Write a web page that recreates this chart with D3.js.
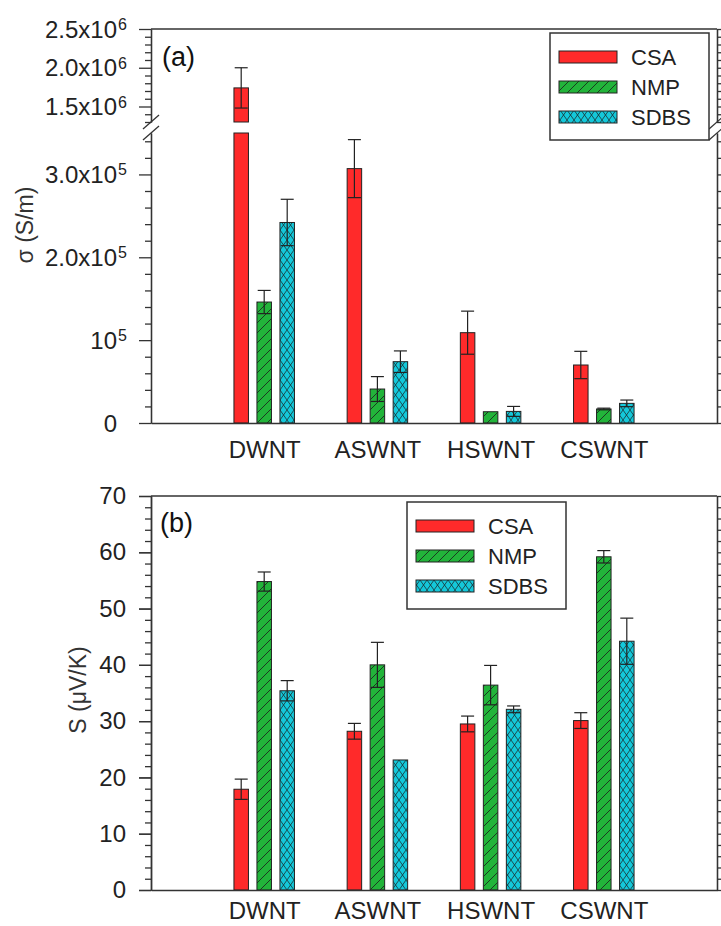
<!DOCTYPE html>
<html>
<head>
<meta charset="utf-8">
<script src="https://cdn.jsdelivr.net/npm/d3@7"></script>
<style>
  body { margin: 0; background: #fff; }
  svg { display: block; font-family: "Liberation Sans", Arial, sans-serif; }
  .axis path, .axis line { stroke: #333; stroke-width: 1.3; }
  .axis text { fill: #222; }
</style>
</head>
<body>
<script>
//categories and solvents
var categories = ["DWNT", "ASWNT", "HSWNT", "CSWNT"];
var series = ["CSA", "NMP", "SDBS"];

//conductivity (S/m) with error
var sigmaCSA = [1.74e6, 3.07e5, 1.09e5, 7.0e4];
var sigmaCSAErr = [2.6e5, 3.5e4, 2.6e4, 1.65e4];
var sigmaNMP = [1.46e5, 4.1e4, 1.36e4, 1.69e4];
var sigmaNMPErr = [1.4e4, 1.5e4, 0, 1e3];
var sigmaSDBS = [2.42e5, 7.4e4, 1.4e4, 2.37e4];
var sigmaSDBSErr = [2.8e4, 1.3e4, 6e3, 4e3];

//seebeck coefficient (uV/K) with error
var seebeckCSA = [17.9, 28.2, 29.5, 30.1];
var seebeckCSAErr = [1.8, 1.4, 1.4, 1.4];
var seebeckNMP = [54.8, 40.0, 36.4, 59.2];
var seebeckNMPErr = [1.7, 4.0, 3.5, 1.1];
var seebeckSDBS = [35.4, 23.1, 32.1, 44.2];
var seebeckSDBSErr = [1.8, 0, 0.6, 4.1];

//tick labels for the broken sigma axis
var sigmaLowTicks = [0, 1e5, 2e5, 3e5];
var sigmaLowLabels = ["0", "10", "2.0x10", "3.0x10"];
var sigmaLowSup = ["", "5", "5", "5"];
var sigmaHighTicks = [1.5e6, 2.0e6, 2.5e6];
var sigmaHighLabels = ["1.5x10", "2.0x10", "2.5x10"];
var sigmaHighSup = ["6", "6", "6"];
var seebeckTicks = [0, 10, 20, 30, 40, 50, 60, 70];

var fills = {CSA: "#ff2a2a", NMP: "url(#hatchNMP)", SDBS: "url(#hatchSDBS)"};

var svg = d3.select("body").append("svg")
    .attr("width", 721)
    .attr("height", 926);

//hatch patterns
var defs = svg.append("defs");
var pNMP = defs.append("pattern").attr("id", "hatchNMP")
    .attr("patternUnits", "userSpaceOnUse").attr("width", 10).attr("height", 10);
pNMP.append("rect").attr("width", 10).attr("height", 10).attr("fill", "#22b43a");
pNMP.append("path").attr("d", "M0,10 L10,0 M-2,2 L2,-2 M8,12 L12,8")
    .attr("stroke", "#1a1a1a").attr("stroke-width", 0.8);
var pSDBS = defs.append("pattern").attr("id", "hatchSDBS")
    .attr("patternUnits", "userSpaceOnUse").attr("width", 7).attr("height", 10);
pSDBS.append("rect").attr("width", 7).attr("height", 10).attr("fill", "#14c8da");
pSDBS.append("path").attr("d", "M0,0 L7,10 M7,0 L0,10")
    .attr("stroke", "#1a1a1a").attr("stroke-width", 0.7);

//shared x scales
var plotLeft = 151, plotRight = 717;
var xScale = d3.scalePoint().domain(categories).range([plotLeft, plotRight]).padding(1);
var offset = d3.scalePoint().domain(series).range([-23, 23]);
var barWidth = 14.5;

function rows(vals, errs, name) {
    return categories.map(function(c, i) {
        return {cat: c, s: name, v: vals[i], e: errs[i]};
    });
}

//error bar with caps at both ends
function errorBar(g, cx, yTop, yBot) {
    g.append("line").attr("x1", cx).attr("x2", cx).attr("y1", yTop).attr("y2", yBot)
        .attr("stroke", "#222").attr("stroke-width", 1.2);
    [yTop, yBot].forEach(function(yy) {
        g.append("line").attr("x1", cx - 6.5).attr("x2", cx + 6.5).attr("y1", yy).attr("y2", yy)
            .attr("stroke", "#222").attr("stroke-width", 1.2);
    });
}

function legend(g, x0, y0) {
    g.append("rect").attr("x", x0).attr("y", y0).attr("width", 159).attr("height", 107)
        .attr("fill", "#fff").attr("stroke", "#333").attr("stroke-width", 1.5);
    series.forEach(function(s, i) {
        var cy = y0 + 24 + 30 * i;
        g.append("rect").attr("x", x0 + 9).attr("y", cy - 6).attr("width", 58).attr("height", 12)
            .attr("fill", fills[s]).attr("stroke", "#222").attr("stroke-width", 1);
        g.append("text").attr("x", x0 + 81).attr("y", cy + 8)
            .attr("font-size", 22).attr("fill", "#222").text(s);
    });
}

function categoryAxis(g, yBase, pad) {
    g.append("g").attr("class", "axis")
        .attr("transform", `translate(0, ${yBase})`)
        .call(d3.axisBottom(xScale).tickSize(0).tickSizeOuter(0).tickPadding(pad))
        .selectAll("text").attr("font-size", 24);
}

function rightLeftAxes(g, scale, major, minor) {
    [["left", plotLeft], ["right", plotRight]].forEach(function(side) {
        var mk = side[0] == "left" ? d3.axisLeft : d3.axisRight;
        g.append("g").attr("class", "axis").attr("transform", `translate(${side[1]}, 0)`)
            .call(mk(scale).tickValues(minor).tickSize(6).tickSizeOuter(0).tickFormat(""));
        g.append("g").attr("class", "axis").attr("transform", `translate(${side[1]}, 0)`)
            .call(mk(scale).tickValues(major).tickSize(12).tickSizeOuter(0).tickFormat(""));
    });
}

// ---------- panel (a): conductivity with broken axis ----------
var yLow = d3.scaleLinear().domain([0, 3.5e5]).range([423, 133]);
var yHigh = d3.scaleLinear().domain([1.3e6, 2.5e6]).range([122, 29]);
var gA = svg.append("g");

//frame top line
gA.append("line").attr("x1", plotLeft).attr("x2", plotRight).attr("y1", yHigh(2.5e6)).attr("y2", yHigh(2.5e6))
    .attr("stroke", "#333").attr("stroke-width", 1.3);

rightLeftAxes(gA, yLow, sigmaLowTicks, d3.range(2e4, 3.5e5, 2e4).filter(function(v) { return v % 1e5 != 0; }));
rightLeftAxes(gA, yHigh, sigmaHighTicks, d3.range(13, 25).map(function(v) { return v * 1e5; }).filter(function(v) { return v % 5e5 != 0; }));

//break marks
[plotLeft, plotRight].forEach(function(bx) {
    [yHigh(1.3e6), yLow(3.5e5)].forEach(function(by) {
        gA.append("line").attr("x1", bx - 8).attr("y1", by + 7).attr("x2", bx + 8).attr("y2", by - 7)
            .attr("stroke", "#333").attr("stroke-width", 1.3);
    });
});

//tick labels with superscripts
function sigmaLabels(ticks, labels, sups, scale) {
    ticks.forEach(function(t, i) {
        gA.append("text").attr("x", 117).attr("y", scale(t) + 8.5)
            .attr("text-anchor", "end").attr("font-size", 24).attr("fill", "#222").text(labels[i]);
        if (sups[i]) {
            gA.append("text").attr("x", 118).attr("y", scale(t) + 1)
                .attr("font-size", 16).attr("fill", "#222").text(sups[i]);
        }
    });
}
sigmaLabels(sigmaLowTicks, sigmaLowLabels, sigmaLowSup, yLow);
sigmaLabels(sigmaHighTicks, sigmaHighLabels, sigmaHighSup, yHigh);

var dataA = rows(sigmaCSA, sigmaCSAErr, "CSA")
    .concat(rows(sigmaNMP, sigmaNMPErr, "NMP"))
    .concat(rows(sigmaSDBS, sigmaSDBSErr, "SDBS"));

dataA.forEach(function(d) {
    var cx = xScale(d.cat) + offset(d.s);
    var broken = d.v > yLow.domain()[1];
    var lowTop = broken ? yLow(yLow.domain()[1]) : yLow(d.v);
    gA.append("rect").attr("x", cx - barWidth / 2).attr("y", lowTop)
        .attr("width", barWidth).attr("height", yLow(0) - lowTop)
        .attr("fill", fills[d.s]).attr("stroke", "#222").attr("stroke-width", 1);
    var sc = yLow;
    if (broken) {
        sc = yHigh;
        gA.append("rect").attr("x", cx - barWidth / 2).attr("y", yHigh(d.v))
            .attr("width", barWidth).attr("height", yHigh(yHigh.domain()[0]) - yHigh(d.v))
            .attr("fill", fills[d.s]).attr("stroke", "#222").attr("stroke-width", 1);
    }
    if (d.e > 0) errorBar(gA, cx, sc(d.v + d.e), sc(d.v - d.e));
});

categoryAxis(gA, yLow(0), 18);
legend(gA, 550, 33);

gA.append("text").attr("x", 162).attr("y", 66).attr("font-size", 27).attr("fill", "#111").text("(a)");
gA.append("text").attr("transform", "rotate(-90)")
    .attr("x", -225).attr("y", 33).attr("text-anchor", "middle")
    .attr("font-size", 23).attr("fill", "#333").text("σ (S/m)");

// ---------- panel (b): seebeck coefficient ----------
var yS = d3.scaleLinear().domain([0, 70]).range([890, 496]);
var gB = svg.append("g");

gB.append("line").attr("x1", plotLeft).attr("x2", plotRight).attr("y1", yS(70)).attr("y2", yS(70))
    .attr("stroke", "#333").attr("stroke-width", 1.3);
rightLeftAxes(gB, yS, seebeckTicks, d3.range(2, 70, 2).filter(function(v) { return v % 10 != 0; }));

//major labels on the left side
gB.append("g").attr("class", "axis").attr("transform", `translate(${plotLeft}, 0)`)
    .call(d3.axisLeft(yS).tickValues(seebeckTicks).tickSize(12).tickSizeOuter(0).tickPadding(13))
    .selectAll("text").attr("font-size", 24);

var dataB = rows(seebeckCSA, seebeckCSAErr, "CSA")
    .concat(rows(seebeckNMP, seebeckNMPErr, "NMP"))
    .concat(rows(seebeckSDBS, seebeckSDBSErr, "SDBS"));

dataB.forEach(function(d) {
    var cx = xScale(d.cat) + offset(d.s);
    gB.append("rect").attr("x", cx - barWidth / 2).attr("y", yS(d.v))
        .attr("width", barWidth).attr("height", yS(0) - yS(d.v))
        .attr("fill", fills[d.s]).attr("stroke", "#222").attr("stroke-width", 1);
    if (d.e > 0) errorBar(gB, cx, yS(d.v + d.e), yS(d.v - d.e));
});

categoryAxis(gB, yS(0), 12);
legend(gB, 407, 502);

gB.append("text").attr("x", 160).attr("y", 532).attr("font-size", 27).attr("fill", "#111").text("(b)");
gB.append("text").attr("transform", "rotate(-90)")
    .attr("x", -690).attr("y", 86).attr("text-anchor", "middle")
    .attr("font-size", 23).attr("fill", "#333").text("S (μV/K)");
</script>
</body>
</html>
